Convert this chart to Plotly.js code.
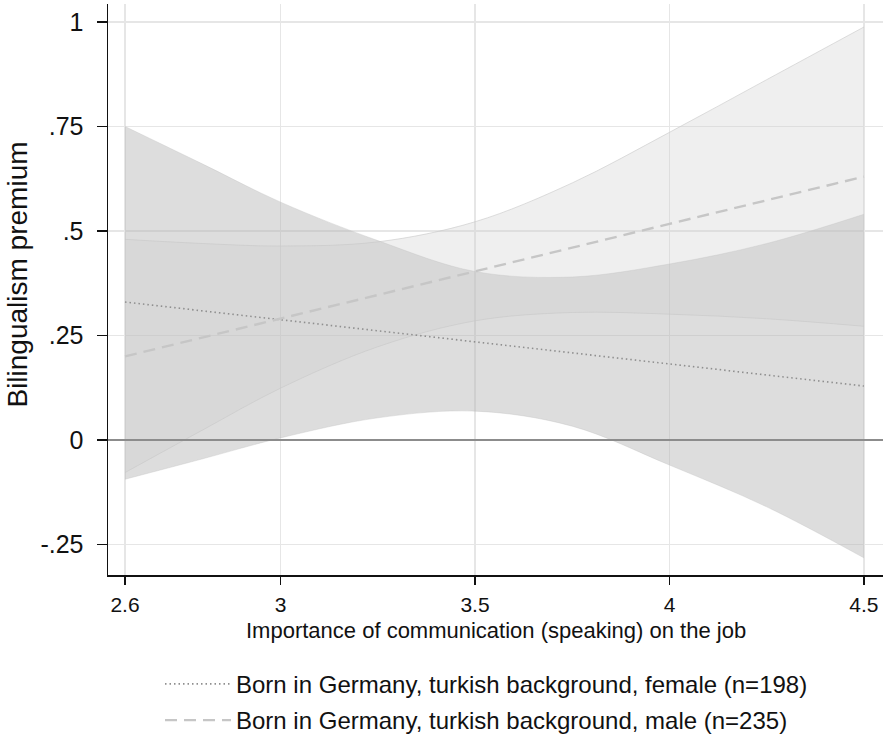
<!DOCTYPE html>
<html>
<head>
<meta charset="utf-8">
<script src="https://cdn.plot.ly/plotly-3.0.1.min.js"></script>
<style>html,body{margin:0;padding:0;background:#fff;}#chart{width:883px;height:738px;}</style>
</head>
<body>
<div id="chart"></div>
<script>
// Importance of communication (x)
const xs = [2.6, 2.8, 3.0, 3.25, 3.5, 3.75, 4.0, 4.25, 4.5];
// Female: point estimate and 95% CI
const femaleEst   = [0.330, 0.309, 0.288, 0.261, 0.235, 0.208, 0.182, 0.155, 0.129];
const femaleUpper = [0.750, 0.660, 0.569, 0.477, 0.403, 0.390, 0.421, 0.470, 0.540];
const femaleLower = [-0.094, -0.045, 0.005, 0.053, 0.069, 0.033, -0.060, -0.160, -0.282];
// Male: point estimate and 95% CI
const maleEst   = [0.200, 0.245, 0.291, 0.347, 0.404, 0.460, 0.517, 0.573, 0.630];
const maleUpper = [0.480, 0.470, 0.464, 0.474, 0.522, 0.615, 0.736, 0.862, 0.988];
const maleLower = [-0.078, 0.024, 0.124, 0.223, 0.285, 0.305, 0.301, 0.290, 0.272];

const xTickVals = [2.6, 3, 3.5, 4, 4.5];
const xTickText = ['2.6', '3', '3.5', '4', '4.5'];
const yTickVals = [-0.25, 0, 0.25, 0.5, 0.75, 1];
const yTickText = ['-.25', '0', '.25', '.5', '.75', '1'];

const labelFemale = 'Born in Germany, turkish background, female (n=198)';
const labelMale = 'Born in Germany, turkish background, male (n=235)';
const xTitle = 'Importance of communication (speaking) on the job';
const yTitle = 'Bilingualism premium';

const sans = '"Liberation Sans", Arial, Helvetica, sans-serif';

const femaleFill = 'rgba(180,180,180,0.45)';
const maleFill = 'rgba(205,205,205,0.32)';

const traces = [
  {x: xs, y: femaleLower, type: 'scatter', mode: 'lines', line: {color: 'rgba(190,190,190,0.35)', width: 1, shape: 'spline'}, showlegend: false, hoverinfo: 'skip'},
  {x: xs, y: femaleUpper, type: 'scatter', mode: 'lines', fill: 'tonexty', fillcolor: femaleFill, line: {color: 'rgba(190,190,190,0.35)', width: 1, shape: 'spline'}, showlegend: false, hoverinfo: 'skip'},
  {x: xs, y: maleLower, type: 'scatter', mode: 'lines', line: {color: 'rgba(200,200,200,0.6)', width: 1, shape: 'spline'}, showlegend: false, hoverinfo: 'skip'},
  {x: xs, y: maleUpper, type: 'scatter', mode: 'lines', fill: 'tonexty', fillcolor: maleFill, line: {color: 'rgba(200,200,200,0.6)', width: 1, shape: 'spline'}, showlegend: false, hoverinfo: 'skip'},
  {x: xs, y: femaleEst, type: 'scatter', mode: 'lines', name: labelFemale, legendgroup: 'f', line: {color: '#8f8f8f', width: 1.6, dash: '1.5px,3px'}},
  {x: xs, y: maleEst, type: 'scatter', mode: 'lines', name: labelMale, legendgroup: 'm', line: {color: '#c6c6c6', width: 2.4, dash: '12px,7px'}}
];

const layout = {
  width: 883, height: 738,
  margin: {l: 108, r: 0, t: 4, b: 163, autoexpand: false},
  paper_bgcolor: '#ffffff', plot_bgcolor: '#ffffff',
  showlegend: true,
  font: {family: sans, color: '#111111'},
  xaxis: {
    range: [2.5563, 4.549], tickvals: xTickVals, ticktext: xTickText,
    showgrid: true, gridcolor: '#e6e6e6', gridwidth: 1.5,
    zeroline: false, showline: true, linecolor: '#111111', linewidth: 1.5,
    ticks: 'outside', ticklen: 8, tickwidth: 1.5, tickcolor: '#111111',
    tickfont: {family: sans, size: 21, color: '#111111'}, ticklabelstandoff: 2,
    fixedrange: true, automargin: false
  },
  yaxis: {
    range: [-0.323, 1.043], tickvals: yTickVals, ticktext: yTickText,
    showgrid: true, gridcolor: '#e6e6e6', gridwidth: 1.5,
    zeroline: true, zerolinecolor: '#8c8c8c', zerolinewidth: 1.5, zerolinelayer: 'above traces',
    showline: true, linecolor: '#111111', linewidth: 1.5,
    ticks: 'outside', ticklen: 10, tickwidth: 1.5, tickcolor: '#111111',
    tickfont: {family: sans, size: 25, color: '#111111'}, ticklabelstandoff: 8,
    fixedrange: true, automargin: false
  },
  legend: {
    x: 0.0671, xanchor: 'left', y: -0.152, yanchor: 'top',
    orientation: 'v', bgcolor: 'rgba(0,0,0,0)',
    font: {family: sans, size: 24, color: '#111111'},
    itemwidth: 66, tracegroupgap: 2, traceorder: 'grouped'
  },
  annotations: [
    {text: xTitle, xref: 'paper', yref: 'paper', x: 0.5, y: -0.098, xanchor: 'center', yanchor: 'middle', showarrow: false, font: {family: sans, size: 22, color: '#111111'}},
    {text: yTitle, xref: 'paper', yref: 'paper', x: -0.1394, y: 0.527, xanchor: 'left', yanchor: 'middle', textangle: -90, showarrow: false, font: {family: sans, size: 28, color: '#111111'}}
  ]
};

Plotly.newPlot('chart', traces, layout, {displayModeBar: false, staticPlot: true});
</script>
</body>
</html>
